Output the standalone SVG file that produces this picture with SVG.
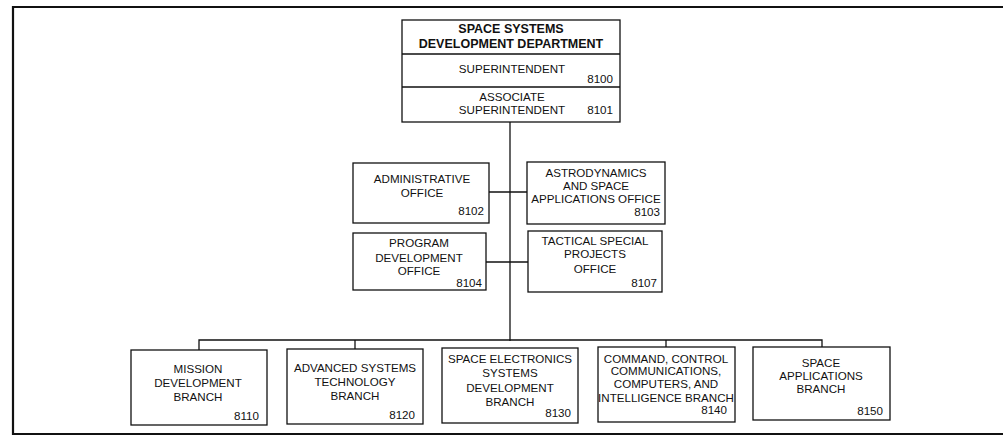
<svg xmlns="http://www.w3.org/2000/svg" width="1003" height="439" viewBox="0 0 1003 439">
<style>
.box{fill:#fff;stroke:#111;stroke-width:1.3}
.frame{fill:none;stroke:#111;stroke-width:2.2}
.ln{fill:none;stroke:#111;stroke-width:1.3}
text{font-family:"Liberation Sans",Arial,sans-serif;font-size:11.6px;fill:#111}
.c{text-anchor:middle}
.n{text-anchor:end}
.t{font-weight:bold;font-size:12.5px}
</style>
<rect width="1003" height="439" fill="#fff"/>
<path class="frame" d="M1010,7 H13 V434 H1010"/>
<g id="connectors">
<path class="ln" d="M510,122 V341"/>
<path class="ln" d="M489,192 H527"/>
<path class="ln" d="M486,262 H528"/>
<path class="ln" d="M199,350 V340 H822 V347"/>
<path class="ln" d="M355,340 V349"/>
<path class="ln" d="M666,340 V347"/>
</g>
<g id="department">
<rect class="box" x="402" y="20" width="218" height="102"/>
<path class="ln" d="M402,54 H620 M402,87 H620"/>
<text class="c t" x="511" y="33">SPACE SYSTEMS</text>
<text class="c t" x="511" y="48">DEVELOPMENT DEPARTMENT</text>
<text class="c" x="512" y="73">SUPERINTENDENT</text>
<text class="n" x="613" y="83">8100</text>
<text class="c" x="512" y="101">ASSOCIATE</text>
<text class="c" x="512" y="114">SUPERINTENDENT</text>
<text class="n" x="613" y="114">8101</text>
</g>
<g id="n8102">
<rect class="box" x="353" y="163" width="136" height="60"/>
<text class="c" x="422" y="183">ADMINISTRATIVE</text>
<text class="c" x="422" y="197">OFFICE</text>
<text class="n" x="484" y="215">8102</text>
</g>
<g id="n8103">
<rect class="box" x="527" y="162" width="138" height="62"/>
<text class="c" x="596" y="177">ASTRODYNAMICS</text>
<text class="c" x="596" y="190">AND SPACE</text>
<text class="c" x="596" y="203">APPLICATIONS OFFICE</text>
<text class="n" x="660" y="216">8103</text>
</g>
<g id="n8104">
<rect class="box" x="353" y="233" width="133" height="57"/>
<text class="c" x="419" y="247">PROGRAM</text>
<text class="c" x="419" y="262">DEVELOPMENT</text>
<text class="c" x="419" y="275">OFFICE</text>
<text class="n" x="482" y="287">8104</text>
</g>
<g id="n8107">
<rect class="box" x="528" y="231" width="134" height="61"/>
<text class="c" x="595" y="245">TACTICAL SPECIAL</text>
<text class="c" x="595" y="258">PROJECTS</text>
<text class="c" x="595" y="273">OFFICE</text>
<text class="n" x="657" y="287">8107</text>
</g>
<g id="n8110">
<rect class="box" x="131" y="350" width="136" height="75"/>
<text class="c" x="198" y="373">MISSION</text>
<text class="c" x="198" y="387">DEVELOPMENT</text>
<text class="c" x="198" y="401">BRANCH</text>
<text class="n" x="259" y="420">8110</text>
</g>
<g id="n8120">
<rect class="box" x="287" y="349" width="136" height="75"/>
<text class="c" x="355" y="372">ADVANCED SYSTEMS</text>
<text class="c" x="355" y="386">TECHNOLOGY</text>
<text class="c" x="355" y="400">BRANCH</text>
<text class="n" x="415" y="419">8120</text>
</g>
<g id="n8130">
<rect class="box" x="442" y="348" width="136" height="75"/>
<text class="c" x="510" y="363">SPACE ELECTRONICS</text>
<text class="c" x="510" y="377">SYSTEMS</text>
<text class="c" x="510" y="392">DEVELOPMENT</text>
<text class="c" x="510" y="406">BRANCH</text>
<text class="n" x="571" y="417">8130</text>
</g>
<g id="n8140">
<rect class="box" x="598" y="347" width="137" height="75"/>
<text class="c" x="666" y="363">COMMAND, CONTROL</text>
<text class="c" x="666" y="375">COMMUNICATIONS,</text>
<text class="c" x="666" y="388">COMPUTERS, AND</text>
<text class="c" x="666" y="402">INTELLIGENCE BRANCH</text>
<text class="n" x="727" y="414">8140</text>
</g>
<g id="n8150">
<rect class="box" x="753" y="347" width="137" height="73"/>
<text class="c" x="821" y="367">SPACE</text>
<text class="c" x="821" y="380">APPLICATIONS</text>
<text class="c" x="821" y="393">BRANCH</text>
<text class="n" x="883" y="415">8150</text>
</g>
</svg>
